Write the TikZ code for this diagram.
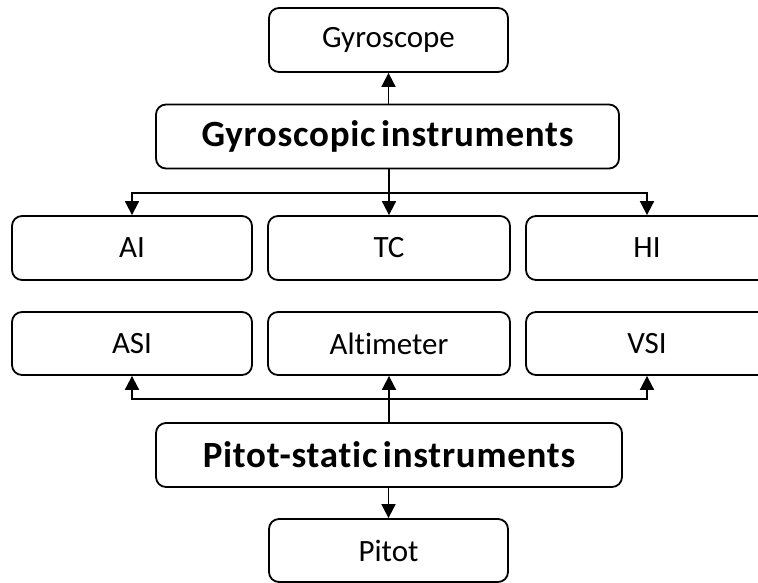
\documentclass[tikz,border=0pt]{standalone}
\usepackage{fontspec}
\setmainfont[Ligatures=NoCommon]{Carlito}
\newfontfamily\headfont[Ligatures=NoCommon, LetterSpace=2, WordSpace=0.6]{Carlito}
\usetikzlibrary{arrows.meta}
\begin{document}
\begin{tikzpicture}[x=1pt,y=-1pt,
  box/.style={draw, line width=1.8pt, rounded corners=10pt, inner sep=0pt,
    minimum height=64pt, font=\fontsize{31}{37}\selectfont},
  headbox/.style={box, font=\headfont\fontsize{37}{43}\selectfont\bfseries},
  link/.style={line width=1.8pt},
  arrow/.style={link, -{Triangle[width=14pt,length=14pt]}}]
\useasboundingbox (0,0) rectangle (758,583);
\clip (0,0) rectangle (758,583);

% top tree: gyroscopic instruments
\node[box, minimum width=239pt] (gyro) at (388.5,40) {Gyroscope};
\node[headbox, minimum width=463pt] (gyroinst) at (387.5,136.5) {Gyroscopic instruments};
\node[box, minimum width=240pt] (ai) at (132,248) {AI};
\node[box, minimum width=242pt] (tc) at (389,248) {TC};
\node[box, minimum width=242pt] (hi) at (647,248) {HI};

% bottom tree: pitot-static instruments
\node[box, minimum width=240pt, minimum height=63pt] (asi) at (132,343.5) {ASI};
\node[box, minimum width=242pt, minimum height=63pt] (alt) at (389,343.5) {Altimeter};
\node[box, minimum width=242pt, minimum height=63pt] (vsi) at (647,343.5) {VSI};
\node[headbox, minimum width=466pt] (pitotinst) at (389,455) {Pitot-static instruments};
\node[box, minimum width=239pt, minimum height=63pt] (pitot) at (388.5,550.5) {Pitot};

% junctions of the branching connectors
\coordinate (jtop) at (389,193);
\coordinate (jbot) at (389,399);

% connectors of the top tree
\draw[arrow] (gyroinst.north -| gyro.south) -- (gyro.south);
\draw[link] (gyroinst.south -| jtop) -- (jtop);
\draw[arrow] (jtop) -| (ai.north);
\draw[arrow] (jtop) -- (tc.north);
\draw[arrow] (jtop) -| (hi.north);

% connectors of the bottom tree
\draw[arrow] (pitotinst.north -| alt.south) -- (alt.south);
\draw[arrow] (jbot) -| (asi.south);
\draw[arrow] (jbot) -| (vsi.south);
\draw[arrow] (pitotinst.south -| pitot.north) -- (pitot.north);
\end{tikzpicture}
\end{document}
